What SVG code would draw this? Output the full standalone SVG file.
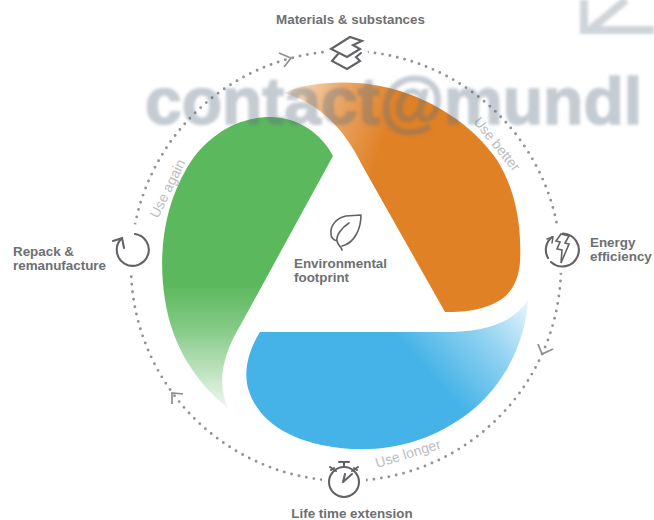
<svg xmlns="http://www.w3.org/2000/svg" width="654" height="520" viewBox="0 0 654 520">
<style>
text{font-family:"Liberation Sans",Arial,sans-serif}
.lbl{font-size:13.4px;font-weight:700;fill:#6e6f72}
.use{font-size:14px;fill:#bcbdbf}
.ic{fill:none;stroke:#626366;stroke-width:2.1;stroke-linejoin:miter;stroke-linecap:round}
.chev{fill:none;stroke:#8e8f92;stroke-width:1.7}
.ring{fill:none;stroke:#929396;stroke-width:2.9;stroke-linecap:round;stroke-dasharray:0 7.55}
.halo{fill:#fff}
.wm{font-size:66px;font-weight:700;fill:#5f6f80;stroke:#5f6f80;stroke-width:1.6;opacity:.36}
</style>
<defs>
<linearGradient id="go" gradientUnits="userSpaceOnUse" x1="285" y1="100" x2="385" y2="135"><stop offset="0" stop-color="#e1822a" stop-opacity=".25"/><stop offset=".5" stop-color="#e1822a" stop-opacity=".72"/><stop offset="1" stop-color="#e08126"/></linearGradient>
<linearGradient id="gg" gradientUnits="userSpaceOnUse" x1="0" y1="285" x2="0" y2="408"><stop offset="0" stop-color="#5bb85d"/><stop offset=".35" stop-color="#5bb85d" stop-opacity=".75"/><stop offset="1" stop-color="#5bb85d" stop-opacity=".1"/></linearGradient>
<linearGradient id="gb" gradientUnits="userSpaceOnUse" x1="535" y1="300" x2="440" y2="385"><stop offset="0" stop-color="#45b3e7" stop-opacity=".08"/><stop offset=".5" stop-color="#45b3e7" stop-opacity=".6"/><stop offset="1" stop-color="#45b3e7"/></linearGradient>
<filter id="blur" x="-5%" y="-30%" width="110%" height="160%"><feGaussianBlur stdDeviation="1.8"/></filter>
</defs>
<g id="ring-connectors">
<circle class="ring" cx="346" cy="266" r="215"/>
<path class="chev" d="M279 53L291 58L284 67"/>
<path class="chev" d="M538 344L542 354L553 349"/>
<path class="chev" d="M183 394L172 393L172 404"/>
</g>
<g id="petals">
<path id="orange" fill="url(#go)" d="M284 93C305 83 345 79 380 86C430 96 473 125 497 160C514 187 522 222 520 262C518 288 505 302 482 308C468 312 455 312 445 312L362 165C345 130 320 103 284 93Z"/>
<path id="green" fill="url(#gg)" d="M333 156L240 326C222 356 217 384 228 408C195 382 172 345 165 300C158 255 163 208 188 166C205 138 235 117 270 117C298 117 322 134 333 156Z"/>
<path id="blue" fill="url(#gb)" d="M260 332L445 332C480 332 512 325 528 300C526 340 505 385 470 412C430 443 385 453 340 448C295 443 258 424 248 388C243 368 250 348 260 332Z"/>
</g>
<g id="use-labels">
<text class="use" transform="translate(473 122) rotate(51)">Use better</text>
<text class="use" transform="translate(158 219) rotate(-64)">Use again</text>
<text class="use" transform="translate(377 468) rotate(-17)">Use longer</text>
</g>
<g id="node-materials">
<circle class="halo" cx="347" cy="54" r="21"/>
<path class="ic" d="M350 37L331 49L347 57L360 49L353 45L362 41Z"/>
<path class="ic" d="M338 54L332 61L347 69L360 61L356 57L361 53"/>
<text class="lbl" x="350.500" y="24" text-anchor="middle">Materials &amp; substances</text>
</g>
<g id="node-energy">
<circle class="halo" cx="562" cy="250" r="23"/>
<path class="ic" d="M563 233.500A16.500 16.500 0 1 1 551 262M548 258A16.500 16.500 0 0 1 552 237"/>
<path class="ic" d="M547 239L553 237L552 243" style="stroke-width:1.5"/>
<path class="ic" d="M561 234L569 236L565 243L569 244L561 263L562 250L557 249L560 242L556 241Z" style="stroke-width:1.6"/>
<text class="lbl" x="590" y="247">Energy</text>
<text class="lbl" x="590" y="261">efficiency</text>
</g>
<g id="node-life">
<circle class="halo" cx="344" cy="480" r="22"/>
<circle class="ic" cx="344" cy="482" r="15"/>
<path class="ic" d="M339 462H349M344 462V467M331 470L334 468M330 467L336 471M357 470L354 468M358 467L352 471"/>
<path class="ic" d="M343 482L352 474M343 482L345 474"/>
<text class="lbl" x="352" y="518" text-anchor="middle">Life time extension</text>
</g>
<g id="node-repack">
<circle class="halo" cx="132" cy="249" r="25"/>
<path class="ic" d="M135 234A16 16 0 1 1 121 239"/>
<path class="ic" d="M113 241L122 238L124 248"/>
<text class="lbl" x="13" y="256">Repack &amp;</text>
<text class="lbl" x="13" y="270">remanufacture</text>
</g>
<g id="node-footprint">
<path class="ic" d="M361 215L346 216C336 218 330 226 331 234C331 238 334 240 337 241M361 215C361 228 355 243 342 246M349 223C341 228 336 236 337 241C338 246 341 246 342 250" style="stroke-width:1.6"/>
<text class="lbl" x="294" y="268">Environmental</text>
<text class="lbl" x="294" y="282">footprint</text>
</g>
<g id="watermark" filter="url(#blur)">
<text class="wm" x="145" y="124">contact@mundl</text>
<path d="M584 0V30H654M592 28L626 0" fill="none" stroke="#5f6f80" stroke-width="8" opacity=".3"/>
</g>
</svg>
